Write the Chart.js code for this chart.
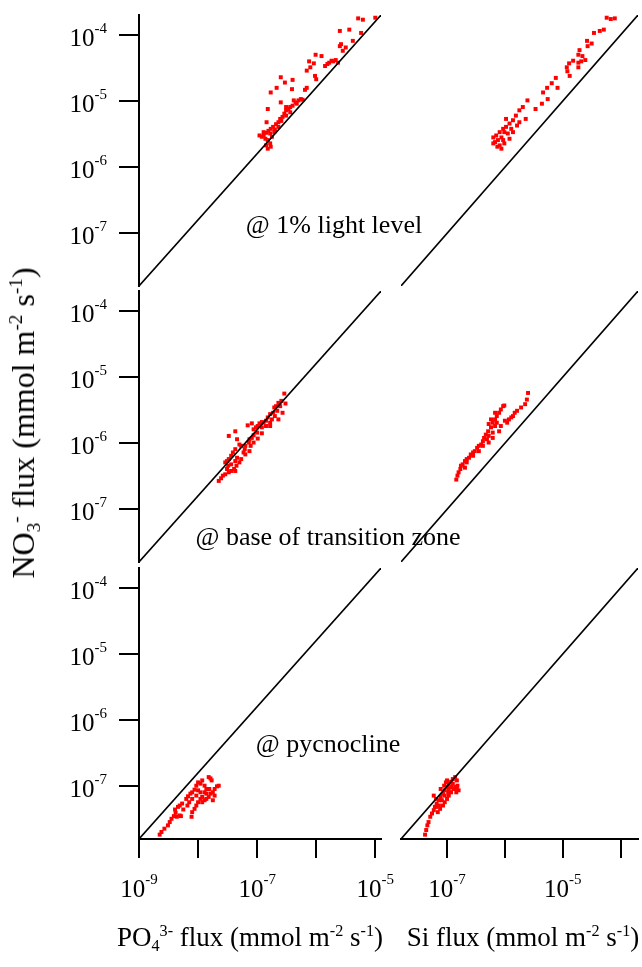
<!DOCTYPE html>
<html>
<head>
<meta charset="utf-8">
<title>NO3 vs PO4 / Si fluxes</title>
<script src="https://cdn.jsdelivr.net/npm/chart.js@4.4.1/dist/chart.umd.min.js"></script>
<style>
  html, body { margin: 0; padding: 0; background: #fff; }
  #figure {
    position: relative; width: 642px; height: 967px; overflow: hidden;
    font-family: "Liberation Serif", "Times New Roman", serif; color: #000;
  }
  #figure canvas { position: absolute; left: 0; top: 0; }
  .txt  { position: absolute; white-space: nowrap; line-height: 1; }
  .sup  { font-size: 0.6em; position: relative; top: -0.6em; }
  .sub  { font-size: 0.6em; position: relative; top: 0.3em; }
  .note { font-size: 26px; transform: translateX(-50%); }
  .xtit { font-size: 27px; transform: translateX(-50%); }
</style>
</head>
<body>
<div id="figure">
  <canvas id="lightPO4" width="642" height="967"></canvas>
  <canvas id="lightSi"  width="642" height="967"></canvas>
  <canvas id="tzPO4"    width="642" height="967"></canvas>
  <canvas id="tzSi"     width="642" height="967"></canvas>
  <canvas id="pycPO4"   width="642" height="967"></canvas>
  <canvas id="pycSi"    width="642" height="967"></canvas>

  <div class="txt note" style="left:334px; top:212px;">@ 1% light level</div>
  <div class="txt note" style="left:328px; top:524px;">@ base of transition zone</div>
  <div class="txt note" style="left:328px; top:731px;">@ pycnocline</div>

  <div class="txt xtit" style="left:250px; top:924px;">PO<span class="sub">4</span><span class="sup">3-</span> flux (mmol m<span class="sup">-2</span> s<span class="sup">-1</span>)</div>
  <div class="txt xtit" style="left:523px; top:924px;">Si flux (mmol m<span class="sup">-2</span> s<span class="sup">-1</span>)</div>

  <div class="txt" style="font-size:32px; left:23px; top:423px; transform: translate(-50%,-50%) rotate(-90deg);">NO<span class="sub">3</span><span class="sup">-</span> flux (mmol m<span class="sup">-2</span> s<span class="sup">-1</span>)</div>
</div>

<script>
// =============================================
//  Data: log10 of the fluxes
//  (x = PO4 or Si flux, y = NO3 flux)
// =============================================

// @ 1% light level
const lightPO4X = [-5.29,-5.21,-5.00,-5.60,-5.44,-5.24,-5.38,-5.58,-5.50,-5.55,-5.60,-6.01,-5.91,-6.12,-6.04,-6.16,-6.10,-6.02,-6.00,-5.81,-5.74,-5.67,-5.63,-5.71,-5.78,-5.85,-6.60,-6.40,-6.53,-6.77,-6.67,-6.41,-6.19,-6.16,-6.60,-6.84,-6.82,-6.23,-6.30,-6.35,-6.40,-6.44,-6.51,-6.54,-6.57,-6.61,-6.64,-6.68,-6.73,-6.77,-6.81,-6.85,-6.89,-6.92,-6.96,-6.86,-6.82,-6.78,-6.77,-6.82,-6.85,-6.75,-6.71,-6.64,-6.51,-6.44,-6.33,-6.47,-6.59,-6.70,-6.38,-6.26,-6.89,-6.78,-6.51];
const lightPO4Y = [-3.75,-3.77,-3.74,-3.94,-3.92,-3.97,-4.09,-4.14,-4.19,-4.24,-4.17,-4.30,-4.32,-4.40,-4.43,-4.54,-4.49,-4.62,-4.67,-4.44,-4.39,-4.38,-4.42,-4.40,-4.42,-4.47,-4.64,-4.68,-4.72,-4.87,-4.80,-4.82,-4.83,-4.80,-5.02,-5.32,-5.12,-4.98,-4.99,-5.02,-5.07,-5.09,-5.14,-5.19,-5.24,-5.27,-5.32,-5.35,-5.39,-5.42,-5.45,-5.48,-5.52,-5.54,-5.52,-5.57,-5.59,-5.64,-5.69,-5.72,-5.67,-5.54,-5.47,-5.39,-5.22,-5.17,-5.04,-5.12,-5.30,-5.43,-4.99,-4.97,-5.47,-5.49,-5.09];

const lightSiX = [-4.24,-4.17,-4.10,-4.46,-4.36,-4.29,-4.58,-4.50,-4.57,-4.71,-4.73,-4.66,-4.61,-4.68,-4.73,-4.82,-4.89,-4.93,-4.92,-4.88,-4.73,-5.12,-5.19,-5.27,-5.34,-5.09,-5.26,-5.36,-5.47,-5.61,-5.69,-5.75,-5.64,-5.81,-5.86,-5.92,-5.98,-6.03,-6.09,-6.15,-6.20,-6.17,-6.13,-6.06,-6.01,-5.92,-5.86,-5.79,-5.95,-6.06,-6.12,-6.01,-5.89,-5.75,-5.98,-6.09,-6.03,-6.20];
const lightSiY = [-3.74,-3.76,-3.75,-3.97,-3.94,-3.92,-4.09,-4.13,-4.17,-4.23,-4.30,-4.32,-4.38,-4.40,-4.42,-4.39,-4.43,-4.49,-4.55,-4.62,-4.49,-4.65,-4.73,-4.80,-4.87,-4.80,-4.97,-5.04,-5.12,-4.99,-5.09,-5.14,-5.27,-5.22,-5.29,-5.34,-5.39,-5.42,-5.47,-5.52,-5.55,-5.62,-5.69,-5.72,-5.64,-5.57,-5.47,-5.37,-5.49,-5.55,-5.59,-5.47,-5.42,-5.32,-5.27,-5.67,-5.59,-5.64];

// @ base of transition zone
const tzPO4X = [-6.54,-6.59,-6.52,-6.64,-6.68,-6.71,-6.61,-6.66,-6.73,-6.78,-6.70,-6.75,-6.82,-6.85,-6.89,-6.92,-6.96,-6.99,-7.02,-7.06,-7.09,-7.16,-6.92,-6.85,-6.78,-7.00,-7.06,-7.09,-7.13,-7.14,-7.20,-7.21,-7.23,-7.27,-7.30,-7.37,-7.48,-7.37,-7.34,-7.41,-7.44,-7.48,-7.51,-7.54,-7.49,-7.44,-7.37,-7.34,-7.35,-7.39,-7.44,-7.48,-7.54,-7.58,-7.61,-7.65,-7.30,-7.27,-7.20,-7.13,-7.11,-7.06,-6.99,-6.92,-6.78,-6.64,-6.57,-7.37,-7.51];
const tzPO4Y = [-5.25,-5.36,-5.40,-5.39,-5.44,-5.46,-5.44,-5.51,-5.54,-5.56,-5.59,-5.64,-5.61,-5.66,-5.69,-5.68,-5.70,-5.74,-5.76,-5.79,-5.70,-5.73,-5.76,-5.74,-5.69,-5.84,-5.88,-5.92,-5.94,-5.99,-6.04,-6.09,-6.14,-6.04,-6.02,-6.09,-5.89,-5.82,-5.94,-6.14,-6.19,-6.24,-6.27,-6.29,-6.34,-6.32,-6.27,-6.22,-6.34,-6.39,-6.42,-6.44,-6.47,-6.49,-6.53,-6.57,-6.29,-6.24,-6.17,-6.12,-6.04,-5.99,-5.93,-5.85,-5.74,-5.64,-5.54,-6.42,-6.39];

const tzSiX = [-5.60,-5.62,-5.65,-5.72,-5.79,-5.83,-5.86,-5.93,-6.00,-6.03,-6.01,-6.07,-6.10,-6.14,-6.17,-6.21,-6.28,-6.24,-6.29,-6.33,-6.36,-6.38,-6.41,-6.45,-6.48,-6.52,-6.55,-6.59,-6.62,-6.66,-6.69,-6.73,-6.76,-6.77,-6.80,-6.82,-6.84,-6.17,-6.21,-6.28,-6.31,-6.38,-6.45,-6.55,-6.66,-6.69,-6.07,-5.96,-5.89,-6.10,-6.21,-6.28,-6.14,-6.17,-6.24];
const tzSiY = [-5.24,-5.34,-5.41,-5.46,-5.51,-5.54,-5.59,-5.64,-5.66,-5.44,-5.43,-5.49,-5.54,-5.59,-5.64,-5.69,-5.71,-5.76,-5.82,-5.87,-5.92,-5.97,-6.02,-6.04,-6.07,-6.12,-6.14,-6.17,-6.22,-6.24,-6.27,-6.32,-6.34,-6.39,-6.44,-6.49,-6.55,-5.74,-5.84,-5.89,-5.94,-6.04,-6.12,-6.19,-6.29,-6.37,-5.74,-5.69,-5.61,-5.82,-5.92,-5.99,-5.69,-5.54,-5.64];

// @ pycnocline
const pycPO4X = [-8.65,-8.62,-8.57,-8.51,-8.48,-8.45,-8.41,-8.38,-8.39,-8.34,-8.31,-8.27,-8.31,-8.36,-8.29,-8.25,-8.20,-8.17,-8.13,-8.10,-8.06,-8.10,-8.11,-8.06,-8.03,-8.00,-7.96,-7.93,-7.89,-7.86,-7.82,-7.79,-7.75,-7.72,-7.68,-7.65,-8.03,-8.00,-7.96,-7.93,-7.89,-7.86,-7.82,-7.79,-7.77,-7.89,-7.96,-8.03,-7.93,-7.86,-8.10,-8.15,-8.18,-7.81,-7.72,-7.75,-8.00];
const pycPO4Y = [-7.73,-7.69,-7.64,-7.59,-7.54,-7.49,-7.45,-7.40,-7.35,-7.31,-7.29,-7.26,-7.44,-7.46,-7.45,-7.35,-7.19,-7.15,-7.11,-7.09,-7.05,-7.39,-7.46,-7.34,-7.29,-7.24,-7.19,-7.16,-7.21,-7.19,-7.16,-7.11,-7.09,-7.04,-7.00,-6.99,-6.99,-6.94,-6.96,-6.91,-6.99,-7.04,-6.86,-6.88,-6.91,-7.09,-7.09,-7.14,-7.24,-7.11,-7.19,-7.24,-7.29,-7.04,-7.14,-7.21,-7.06];

const pycSiX = [-7.38,-7.36,-7.34,-7.32,-7.29,-7.26,-7.23,-7.21,-7.18,-7.19,-7.23,-7.14,-7.11,-7.07,-7.04,-7.00,-6.97,-6.93,-6.90,-6.86,-6.83,-6.82,-6.80,-6.84,-6.89,-6.93,-6.97,-7.00,-7.04,-7.07,-7.12,-7.16,-7.11,-7.05,-7.02,-6.97,-6.90,-6.86,-7.19,-7.14,-7.04,-6.98,-7.09,-6.83,-6.93,-7.00];
const pycSiY = [-7.73,-7.66,-7.59,-7.54,-7.46,-7.41,-7.36,-7.31,-7.26,-7.19,-7.14,-7.21,-7.16,-7.11,-7.06,-7.01,-6.96,-6.93,-6.89,-6.86,-6.91,-6.99,-7.06,-7.09,-7.04,-7.09,-7.14,-7.19,-7.24,-7.29,-7.34,-7.39,-7.04,-6.99,-6.94,-7.04,-6.96,-7.01,-7.31,-7.29,-7.14,-7.09,-7.21,-7.04,-7.01,-6.91];

// Axis limits, reference ratios and tick values
const Y_RANGE        = [1.6e-8, 2e-4];
const X_RANGE_PO4    = [1e-9, 1.25e-5];
const X_RANGE_SI     = [1.6e-8, 2e-4];
const RATIO_N_P      = 16;   // Redfield N:P
const RATIO_N_SI     = 1;
const Y_TICKS        = [1e-4, 1e-5, 1e-6, 1e-7];
const X_TICKS_PO4    = [1e-9, 1e-8, 1e-7, 1e-6, 1e-5];
const X_LABELS_PO4   = [1e-9, 1e-7, 1e-5];
const X_TICKS_SI     = [1e-7, 1e-6, 1e-5, 1e-4];
const X_LABELS_SI    = [1e-7, 1e-5];

// Plot area of each row / column in page pixels
const ROW_TOP    = [15, 291, 568];
const ROW_BOTTOM = [286, 562, 839];
const COL_LEFT   = [139, 401];
const COL_RIGHT  = [381, 642];
const PAGE_W = 642, PAGE_H = 967;
const Y_TICK_LEN = 20, X_TICK_LEN = 19;

const FONT_BASE = "25px 'Liberation Serif', serif";
const FONT_EXP  = "15px 'Liberation Serif', serif";

// =============================================
//  Plugin: "10" with a superscript exponent
// =============================================

function drawPower(ctx, value, x, yBase, align) {
  const base = "10";
  const exp  = String(Math.round(Math.log10(value)));
  ctx.font = FONT_BASE;
  const wb = ctx.measureText(base).width;
  ctx.font = FONT_EXP;
  const we = ctx.measureText(exp).width;
  const x0 = align === "right" ? x - wb - we : x - (wb + we) / 2;
  ctx.font = FONT_BASE;
  ctx.fillText(base, x0, yBase);
  ctx.font = FONT_EXP;
  ctx.fillText(exp, x0 + wb, yBase - 13);
}

const powerLabels = {
  id: "powerLabels",
  afterDraw(chart, args, opts) {
    const { ctx, chartArea, scales } = chart;
    ctx.save();
    ctx.fillStyle = "#000";
    ctx.textBaseline = "alphabetic";
    ctx.textAlign = "left";
    (opts.y || []).forEach(v => {
      drawPower(ctx, v, chartArea.left - 32, scales.y.getPixelForValue(v) + 11, "right");
    });
    (opts.x || []).forEach(v => {
      drawPower(ctx, v, scales.x.getPixelForValue(v), chartArea.bottom + 58, "center");
    });
    ctx.restore();
  },
};

// =============================================
//  One panel = one chart
// =============================================

function logScale(range, ticks, show, isX) {
  return {
    type:    "logarithmic",
    min:     range[0],
    max:     range[1],
    bounds:  "data",
    display: show,
    afterBuildTicks: s => { s.ticks = ticks.map(v => ({ value: v })); },
    // hidden axes must keep zero size
    afterFit: s => {
      if (isX) s.height = show ? X_TICK_LEN : 0;
      else     s.width  = show ? Y_TICK_LEN : 0;
    },
    grid: {
      drawOnChartArea: false,
      drawTicks:       true,
      tickLength:      isX ? X_TICK_LEN : Y_TICK_LEN,
      color:           "#000",
      lineWidth:       2,
    },
    border: { display: true, color: "#000", width: 2 },
    ticks:  { display: false },
  };
}

function makePanel(id, xsLog, ysLog, row, col) {
  const isPO4    = col === 0;
  const isBottom = row === 2;
  const xRange   = isPO4 ? X_RANGE_PO4 : X_RANGE_SI;
  const ratio    = isPO4 ? RATIO_N_P : RATIO_N_SI;

  const points = xsLog.map((v, i) => ({ x: 10 ** v, y: 10 ** ysLog[i] }));
  const refLine = [
    { x: xRange[0], y: xRange[0] * ratio },
    { x: xRange[1], y: xRange[1] * ratio },
  ];

  const padBottom = PAGE_H - ROW_BOTTOM[row] - (isBottom ? X_TICK_LEN : 0);
  const padLeft   = COL_LEFT[col] - (isPO4 ? Y_TICK_LEN : 0);

  new Chart(document.getElementById(id), {
    type: "scatter",
    data: {
      datasets: [
        {
          type:        "line",
          data:        refLine,
          borderColor: "#000",
          borderWidth: 1.6,
          pointRadius: 0,
          fill:        false,
          order:       0,
        },
        {
          data:            points,
          backgroundColor: "#ff0000",
          borderWidth:     0,
          pointStyle:      "rect",
          pointRadius:     2.8,
          order:           1,
        },
      ],
    },
    options: {
      responsive:       false,
      animation:        false,
      devicePixelRatio: 1,
      events:           [],
      layout: {
        padding: {
          left:   padLeft,
          right:  PAGE_W - COL_RIGHT[col],
          top:    ROW_TOP[row],
          bottom: padBottom,
        },
      },
      scales: {
        x: logScale(xRange, isPO4 ? X_TICKS_PO4 : X_TICKS_SI, isBottom, true),
        y: logScale(Y_RANGE, Y_TICKS, isPO4, false),
      },
      plugins: {
        legend:  { display: false },
        tooltip: { enabled: false },
        powerLabels: {
          y: isPO4 ? Y_TICKS : [],
          x: isBottom ? (isPO4 ? X_LABELS_PO4 : X_LABELS_SI) : [],
        },
      },
    },
    plugins: [powerLabels],
  });
}

makePanel("lightPO4", lightPO4X, lightPO4Y, 0, 0);
makePanel("lightSi",  lightSiX,  lightSiY,  0, 1);
makePanel("tzPO4",    tzPO4X,    tzPO4Y,    1, 0);
makePanel("tzSi",     tzSiX,     tzSiY,     1, 1);
makePanel("pycPO4",   pycPO4X,   pycPO4Y,   2, 0);
makePanel("pycSi",    pycSiX,    pycSiY,    2, 1);
</script>
</body>
</html>
